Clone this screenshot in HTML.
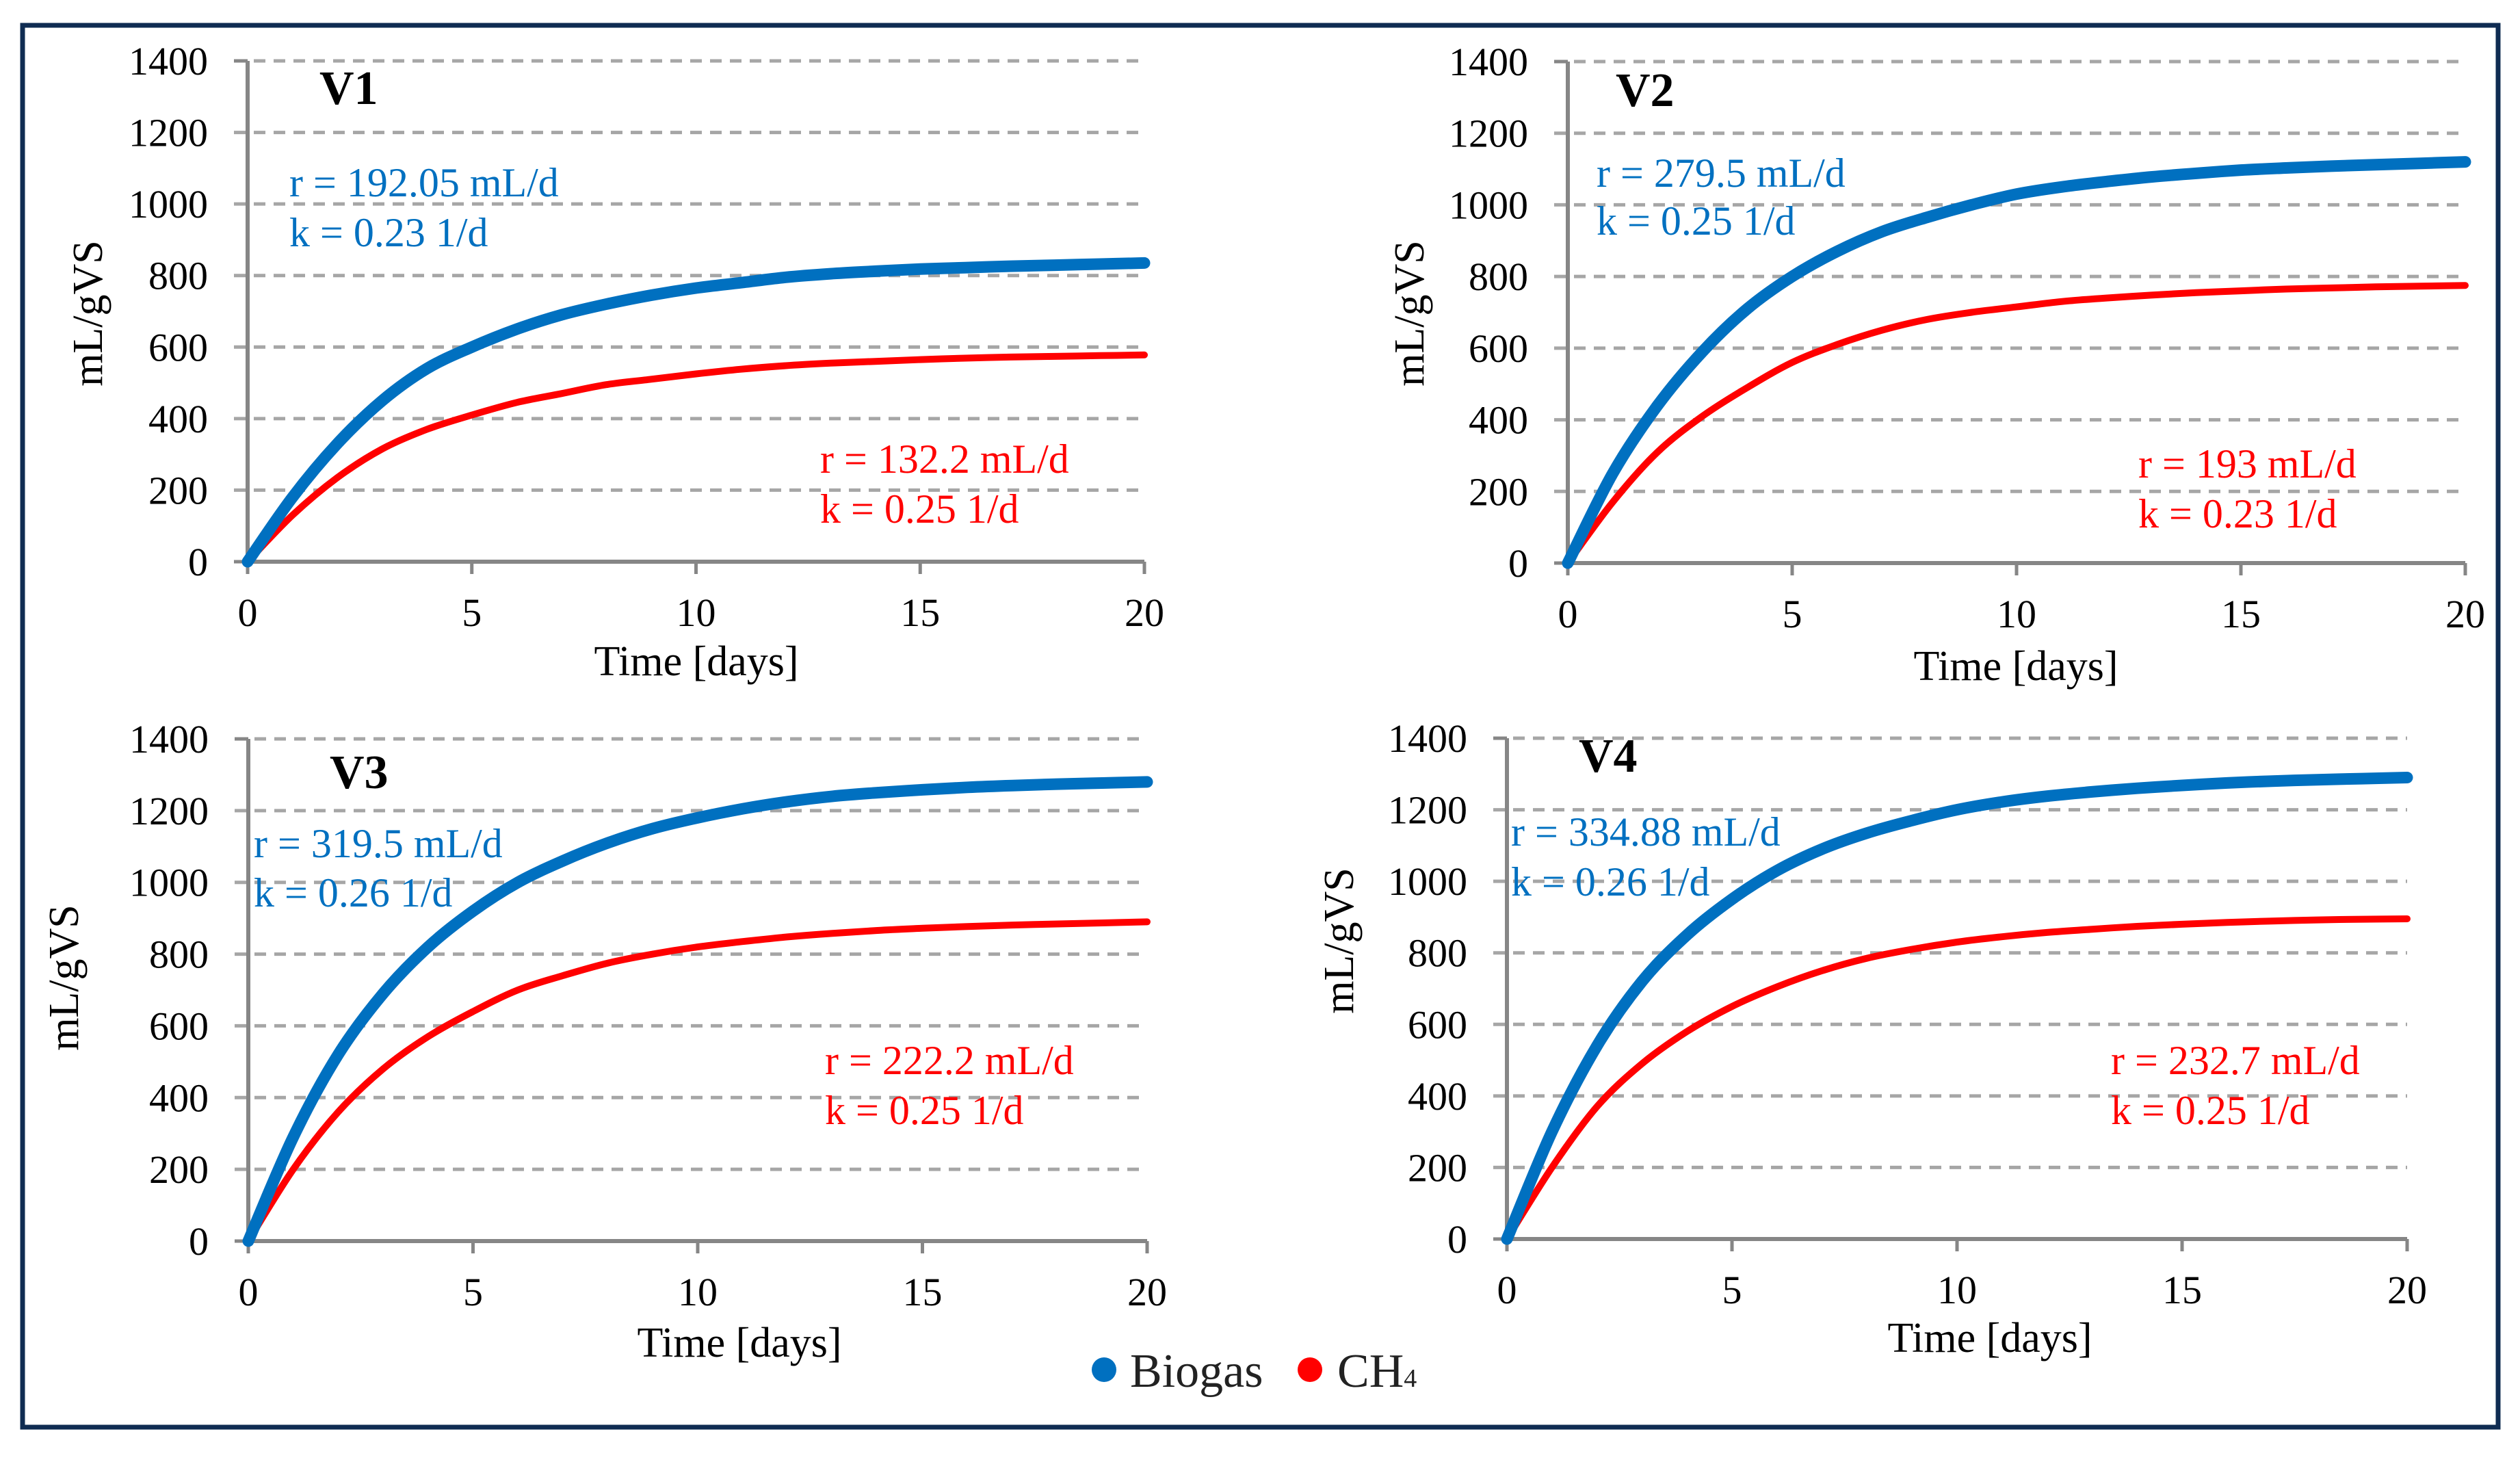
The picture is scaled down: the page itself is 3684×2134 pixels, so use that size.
<!DOCTYPE html>
<html><head><meta charset="utf-8"><style>
html,body{margin:0;padding:0;background:#fff;}
svg, svg text{font-family:"Liberation Serif","DejaVu Serif",serif;}
</style></head><body>
<svg id="fig" width="3684" height="2129" viewBox="0 0 3684 2129" xmlns="http://www.w3.org/2000/svg" font-family="Liberation Serif, serif">
<rect x="33" y="37" width="3619" height="2049" fill="#fff" stroke="#0f2c52" stroke-width="7"/>
<g id="panels"></g>
<g>
<g><circle cx="1614" cy="2002" r="18" fill="#0070c0"/><text x="1652" y="2027" font-size="70" fill="#222">Biogas</text></g>
<g><circle cx="1915" cy="2002" r="18" fill="#ff0000"/><text x="1955" y="2027" font-size="70" fill="#222">CH<tspan font-size="38">4</tspan></text></g>
</g>
</svg>
<script>
const days = [0,1,2,3,4,5,6,7,8,9,10,11,12,13,14,15,16,17,18,19,20];
const yTicks = [0,200,400,600,800,1000,1200,1400];
const xTicks = [0,5,10,15,20];
const panelNames = ["V1","V2","V3","V4"];
const biogasV1 = [0,180,330,450,540,600,650,690,720,745,765,780,795,805,812,818,822,826,829,832,835];
const ch4V1 = [0,130,235,315,370,410,445,470,495,510,525,538,548,555,560,565,569,572,574,576,578];
const biogasV2 = [0,250,440,590,710,800,870,925,965,1000,1030,1050,1065,1078,1088,1097,1103,1108,1112,1116,1120];
const ch4V2 = [0,170,310,410,490,560,610,650,680,700,715,730,740,748,755,760,765,768,771,773,775];
const biogasV3 = [0,290,520,690,820,920,1000,1060,1110,1150,1180,1205,1225,1240,1250,1258,1265,1270,1274,1277,1280];
const ch4V3 = [0,200,360,480,570,640,700,740,775,800,820,835,848,858,866,872,877,881,884,887,890];
const biogasV4 = [0,300,540,720,850,950,1030,1090,1135,1170,1200,1222,1238,1250,1260,1268,1275,1280,1284,1287,1290];
const ch4V4 = [0,200,370,490,580,650,705,750,785,810,830,845,857,866,874,880,885,889,892,894,895];
const blueNotes = [["r = 192.05 mL/d","k = 0.23 1/d"],["r = 279.5 mL/d","k = 0.25 1/d"],["r = 319.5 mL/d","k = 0.26 1/d"],["r = 334.88 mL/d","k = 0.26 1/d"]];
const redNotes = [["r = 132.2 mL/d","k = 0.25 1/d"],["r = 193 mL/d","k = 0.23 1/d"],["r = 222.2 mL/d","k = 0.25 1/d"],["r = 232.7 mL/d","k = 0.25 1/d"]];
const biogasAll = [biogasV1,biogasV2,biogasV3,biogasV4];
const ch4All = [ch4V1,ch4V2,ch4V3,ch4V4];

const layout = [
 {x0:362,x1:1673,y0:821,y1:89,title:[467,152],blue:[423,287,360],red:[1199,691,764],yt:[129,458],time:[1018,987]},
 {x0:2292,x1:3604,y0:823,y1:90,title:[2362,155],blue:[2334,273,343],red:[3126,698,771],yt:[2061,458],time:[2947,994]},
 {x0:363,x1:1677,y0:1814,y1:1080,title:[482,1152],blue:[371,1253,1325],red:[1206,1570,1643],yt:[94,1429],time:[1081,1983]},
 {x0:2203,x1:3519,y0:1811,y1:1079,title:[2308,1128],blue:[2209,1236,1309],red:[3086,1570,1643],yt:[1958,1375],time:[2909,1976]}
];
const NS="http://www.w3.org/2000/svg";
function mk(tag,attrs,parent){const e=document.createElementNS(NS,tag);for(const k in attrs)e.setAttribute(k,attrs[k]);parent.appendChild(e);return e;}
function smooth(pts){
 let d='M'+pts[0][0].toFixed(1)+' '+pts[0][1].toFixed(1);
 for(let i=0;i<pts.length-1;i++){
  const p0=pts[Math.max(0,i-1)],p1=pts[i],p2=pts[i+1],p3=pts[Math.min(pts.length-1,i+2)];
  const c1x=p1[0]+(p2[0]-p0[0])/6,c1y=p1[1]+(p2[1]-p0[1])/6;
  const c2x=p2[0]-(p3[0]-p1[0])/6,c2y=p2[1]-(p3[1]-p1[1])/6;
  d+=` C${c1x.toFixed(1)} ${c1y.toFixed(1)} ${c2x.toFixed(1)} ${c2y.toFixed(1)} ${p2[0].toFixed(1)} ${p2[1].toFixed(1)}`;
 }
 return d;
}
const root=document.getElementById('panels');
layout.forEach((L,i)=>{
 const sx=v=>L.x0+(v-0)/20*(L.x1-L.x0);
 const sy=v=>L.y0+(v/1400)*(L.y1-L.y0);
 const g=mk('g',{},root);
 
 
 yTicks.forEach(t=>{
  if(t>0){const gl=mk('line',{x1:L.x0-20,x2:L.x1,y1:sy(t),y2:sy(t),stroke:'#a6a6a6','stroke-width':5,'stroke-dasharray':'17 12'},g);
   
   }
  const tl=mk('text',{x:L.x0-58,y:sy(t)+20,'font-size':58,'text-anchor':'end',fill:'#000'},g);
  tl.textContent=t;
  
  
 });
 const ya=mk('line',{x1:L.x0,x2:L.x0,y1:L.y1,y2:L.y0,stroke:'#868686','stroke-width':6},g);
 
 
 mk('line',{x1:L.x0-20,x2:L.x0,y1:L.y1,y2:L.y1,stroke:'#868686','stroke-width':5},g);
 mk('line',{x1:L.x0-20,x2:L.x0,y1:L.y0,y2:L.y0,stroke:'#868686','stroke-width':5},g);
 const xa=mk('line',{x1:L.x0,x2:L.x1,y1:L.y0,y2:L.y0,stroke:'#868686','stroke-width':6},g);
 
 
 xTicks.forEach(t=>{
  mk('line',{x1:sx(t),x2:sx(t),y1:L.y0,y2:L.y0+18,stroke:'#868686','stroke-width':5},g);
  const xl=mk('text',{x:sx(t),y:L.y0+94,'font-size':58,'text-anchor':'middle',fill:'#000'},g);
  xl.textContent=t;
  
  
 });
 const ser=[[ch4All[i],'#ff0000',10,'ch4'],[biogasAll[i],'#0070c0',17,'biogas']];
 ser.forEach(s=>{
  const pts=s[0].map((v,j)=>[sx(days[j]),sy(v)]);
  const p=mk('path',{d:smooth(pts),fill:'none',stroke:s[1],'stroke-width':s[2],'stroke-linejoin':'round','stroke-linecap':'round'},g);
  
  
 });
 const tt=mk('text',{x:L.title[0],y:L.title[1],'font-size':70,'font-weight':'bold',fill:'#000'},g);
 tt.textContent=panelNames[i];
 
 
 [[blueNotes[i],L.blue,'#0070c0','biogas-annotation'],[redNotes[i],L.red,'#ff0000','ch4-annotation']].forEach(a=>{
  a[0].forEach((line,k)=>{
   const t=mk('text',{x:a[1][0],y:a[1][1+k],'font-size':60,fill:a[2]},g);
   t.textContent=line;
   
   
  });
 });
 const yt=mk('text',{x:L.yt[0],y:L.yt[1],'font-size':62,'text-anchor':'middle',transform:`rotate(-90 ${L.yt[0]} ${L.yt[1]})`,'dominant-baseline':'central',fill:'#000'},g);
 yt.textContent='mL/gVS';
 
 
 const xt=mk('text',{x:L.time[0],y:L.time[1],'font-size':62,'text-anchor':'middle',fill:'#000'},g);
 xt.textContent='Time [days]';
 
 
});
</script>
</body></html>
